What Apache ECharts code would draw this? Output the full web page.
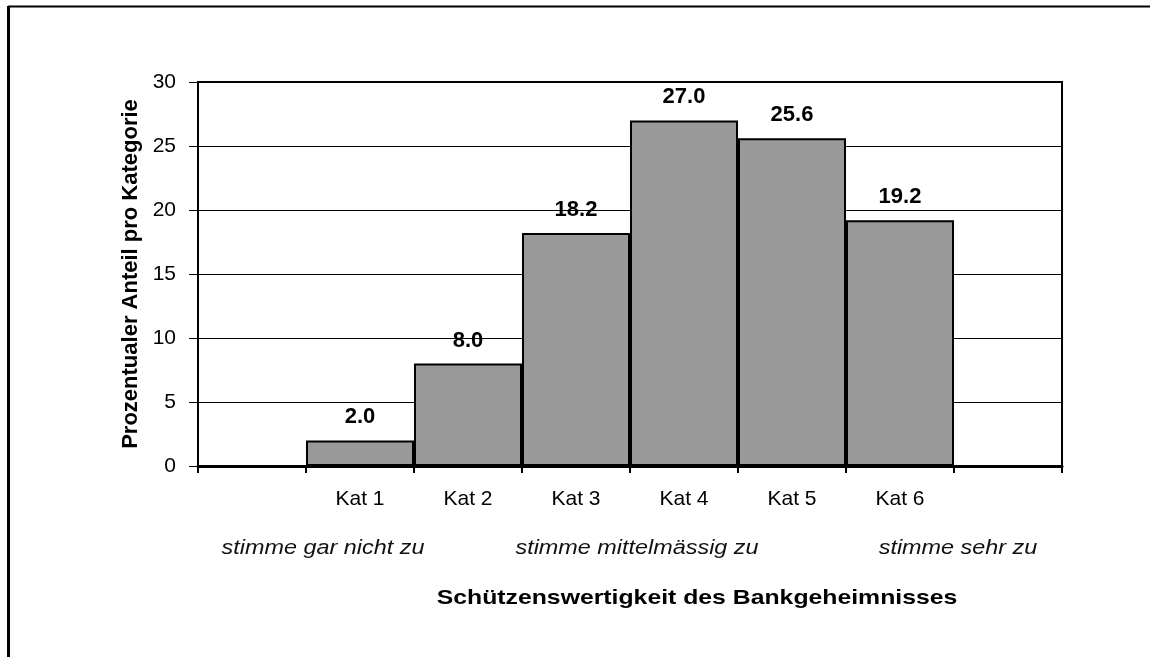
<!DOCTYPE html>
<html>
<head>
<meta charset="utf-8">
<script src="https://cdn.jsdelivr.net/npm/echarts@6/dist/echarts.min.js"></script>
<style>
  html, body { margin: 0; padding: 0; background: #fff; }
  #chart { width: 1150px; height: 657px; }
</style>
</head>
<body>
<div id="chart"></div>
<script>
// Kategorien (leere Randfelder links und rechts wie im Original)
const categories = ['', 'Kat 1', 'Kat 2', 'Kat 3', 'Kat 4', 'Kat 5', 'Kat 6', '']
const values = ['-', 2.0, 8.0, 18.2, 27.0, 25.6, 19.2, '-']
const yTicks = { min: 0, max: 30, interval: 5 }
const scaleNotes = ['stimme gar nicht zu', 'stimme mittelmässig zu', 'stimme sehr zu']
const yTitle = 'Prozentualer Anteil pro Kategorie'
const xTitle = 'Schützenswertigkeit des Bankgeheimnisses'

const font = '"Liberation Sans", Arial, sans-serif'
const chart = echarts.init(document.getElementById('chart'))

const notePos = [323, 637, 958]

chart.setOption({
  animation: false,
  backgroundColor: '#fff',
  textStyle: { fontFamily: font, color: '#000' },
  grid: {
    left: 198, right: 88, top: 82, bottom: 191,
    show: true, borderColor: '#000', borderWidth: 2, backgroundColor: 'transparent'
  },
  xAxis: {
    type: 'category',
    data: categories,
    boundaryGap: true,
    axisLine: { lineStyle: { color: '#000', width: 3 } },
    axisTick: { show: true, length: 7, lineStyle: { color: '#000', width: 2 } },
    axisLabel: { color: '#000', fontSize: 21, margin: 23, fontFamily: font }
  },
  yAxis: {
    type: 'value',
    min: yTicks.min, max: yTicks.max, interval: yTicks.interval,
    name: yTitle,
    nameLocation: 'middle',
    nameGap: 55,
    nameTextStyle: { fontSize: 22, fontWeight: 'bold', color: '#000', fontFamily: font },
    axisLine: { show: true, lineStyle: { color: '#000', width: 2 } },
    axisTick: { show: true, length: 9, lineStyle: { color: '#000', width: 1 } },
    axisLabel: { color: '#000', fontSize: 21, margin: 22, fontFamily: font },
    splitLine: { show: true, lineStyle: { color: '#000', width: 1 } }
  },
  series: [{
    type: 'bar',
    data: values,
    barCategoryGap: 0,
    itemStyle: { color: '#999999', borderColor: '#000', borderWidth: 2 },
    label: {
      show: true, position: 'top', distance: 12,
      formatter: p => p.value.toFixed(1),
      fontSize: 22, fontWeight: 'bold', color: '#000', fontFamily: font
    }
  }],
  graphic: [
    // Rahmen oben und links
    { type: 'line', shape: { x1: 8, y1: 6.5, x2: 1150, y2: 6.5 }, style: { stroke: '#000', lineWidth: 2 } },
    { type: 'line', shape: { x1: 8.5, y1: 6, x2: 8.5, y2: 657 }, style: { stroke: '#000', lineWidth: 3 } },
    ...scaleNotes.map((t, i) => ({
      type: 'text', x: notePos[i], y: 548, scaleX: 1.17,
      style: {
        text: t, fontSize: 20, fontStyle: 'italic', fontFamily: font, fill: '#111',
        align: 'center', verticalAlign: 'middle'
      }
    })),
    {
      type: 'text', x: 697, y: 598, scaleX: 1.18,
      style: {
        text: xTitle, fontSize: 21, fontWeight: 'bold', fontFamily: font, fill: '#000',
        align: 'center', verticalAlign: 'middle'
      }
    }
  ]
})
</script>
</body>
</html>
